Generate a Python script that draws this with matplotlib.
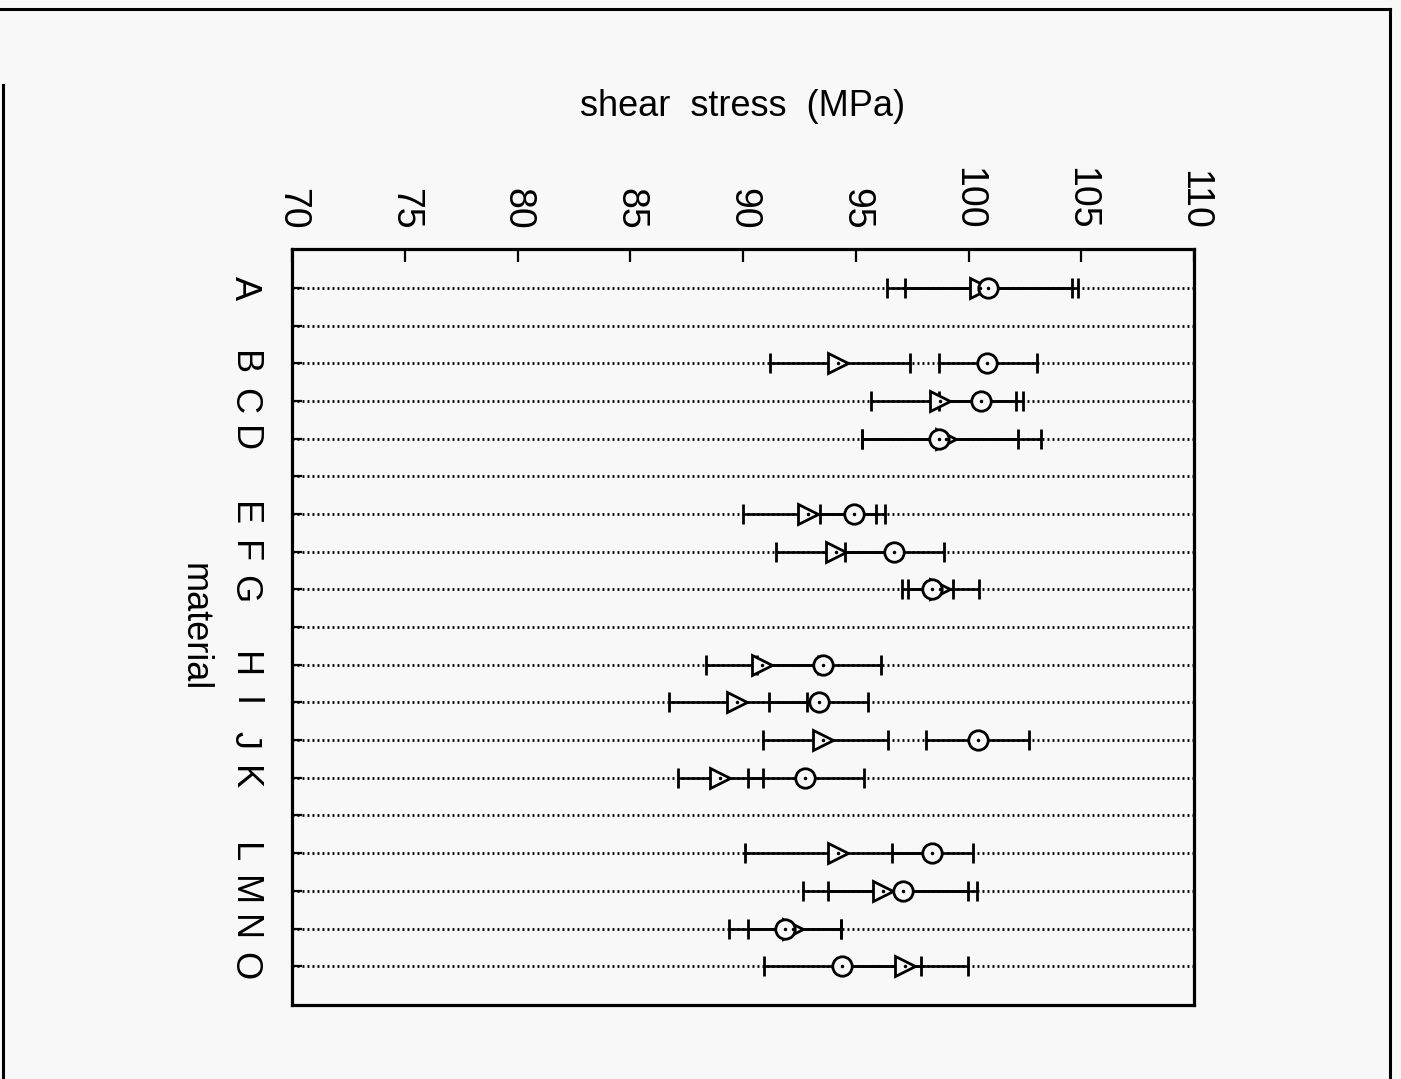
import numpy as np
import matplotlib
matplotlib.use("Agg")
import matplotlib.pyplot as plt
from matplotlib.lines import Line2D

nan = np.nan
categories = ['A', '', 'B', 'C', 'D', '', 'E', 'F', 'G', '', 'H', 'I', 'J', 'K', '', 'L', 'M', 'N', 'O']

tri_mean = [100.51, nan, 94.21, 98.74, 99.00, nan, 92.88, 94.12, 98.74, nan,
            90.84, 89.73, 93.55, 88.98, nan, 94.21, 96.21, 92.22, 97.18]
tri_low = [96.39, nan, 91.20, 95.68, 95.28, nan, 90.00, 91.46, 97.05, nan,
           88.36, 86.72, 90.89, 87.12, nan, 90.09, 92.66, 90.22, 94.39]
tri_high = [104.59, nan, 97.41, 102.11, 103.22, nan, 95.90, 96.78, 100.47, nan,
            93.33, 92.84, 96.43, 90.89, nan, 98.34, 99.98, 94.35, 99.98]

circ_mean = [100.86, nan, 100.82, 100.55, 98.69, nan, 94.92, 96.70, 98.38, nan,
             93.55, 93.38, 100.42, 92.75, nan, 98.38, 97.10, 91.86, 94.39]
circ_low = [97.18, nan, 98.69, 98.69, 95.28, nan, 93.42, 94.52, 97.32, nan,
            90.62, 91.15, 98.12, 90.22, nan, 96.61, 93.77, 89.38, 90.93]
circ_high = [104.86, nan, 103.04, 102.42, 102.20, nan, 96.30, 98.91, 99.31, nan,
             96.12, 95.54, 102.68, 95.37, nan, 100.20, 100.38, 94.35, 97.89]

xticks = [70, 75, 80, 85, 90, 95, 100, 105, 110]

BG = '#f8f8f8'
plt.rcParams['font.family'] = ['Liberation Sans', 'DejaVu Sans']

W, H = 1401, 1079
fig = plt.figure(figsize=(W / 100, H / 100), dpi=100, facecolor=BG)
ax = fig.add_axes([292 / W, 1 - 1005 / H, 902 / W, 756 / H])
ax.set_facecolor(BG)

y = np.arange(len(categories))

ax.set_xlim(70, 110)
ax.set_ylim(19.03, -1.035)

# dotted row lines
ax.set_yticks(y)
ax.set_yticklabels(categories)
ax.grid(axis='y', color='black', linestyle=(0, (0.7, 1.1)), linewidth=2.0)
ax.set_axisbelow(True)

def draw(mean, low, high, marker):
    mean = np.array(mean); low = np.array(low); high = np.array(high)
    err = [mean - low, high - mean]
    ax.errorbar(mean, y, xerr=err, fmt=marker, color='black', ecolor='black',
                elinewidth=1.9, capsize=7, capthick=1.9, markersize=14,
                markerfacecolor=BG, markeredgecolor='black', markeredgewidth=2.0,
                zorder=3)
    ax.plot(mean, y, '.', color='black', markersize=3, zorder=4)

draw(tri_mean, tri_low, tri_high, '>')
draw(circ_mean, circ_low, circ_high, 'o')

ax.xaxis.tick_top()
ax.xaxis.set_label_position('top')
ax.set_xticks(xticks)
ax.set_xticklabels([str(t) for t in xticks], rotation=-90, va='bottom', ha='center')
ax.tick_params(axis='x', direction='in', length=9, width=1.6, labelsize=27, pad=14)
ax.tick_params(axis='y', direction='in', length=7, width=1.6, labelsize=26, pad=22)
for lab in ax.get_yticklabels():
    lab.set_rotation(-90)
    lab.set_va('center')
    lab.set_ha('right')

for s in ax.spines.values():
    s.set_linewidth(2.3)

ax.set_xlabel('shear  stress  (MPa)', fontsize=26, labelpad=37)
ax.set_ylabel('material', fontsize=26, rotation=-90, va='top', labelpad=11)

# outer page border
for xs, ys in [([0, 1390], [9, 9]), ([1390, 1390], [9, H]), ([3, 3], [85, H])]:
    fig.add_artist(Line2D([v / W for v in xs], [1 - v / H for v in ys],
                          transform=fig.transFigure, color='black', linewidth=2.2))

fig.savefig('out.png', dpi=100, facecolor=BG)
